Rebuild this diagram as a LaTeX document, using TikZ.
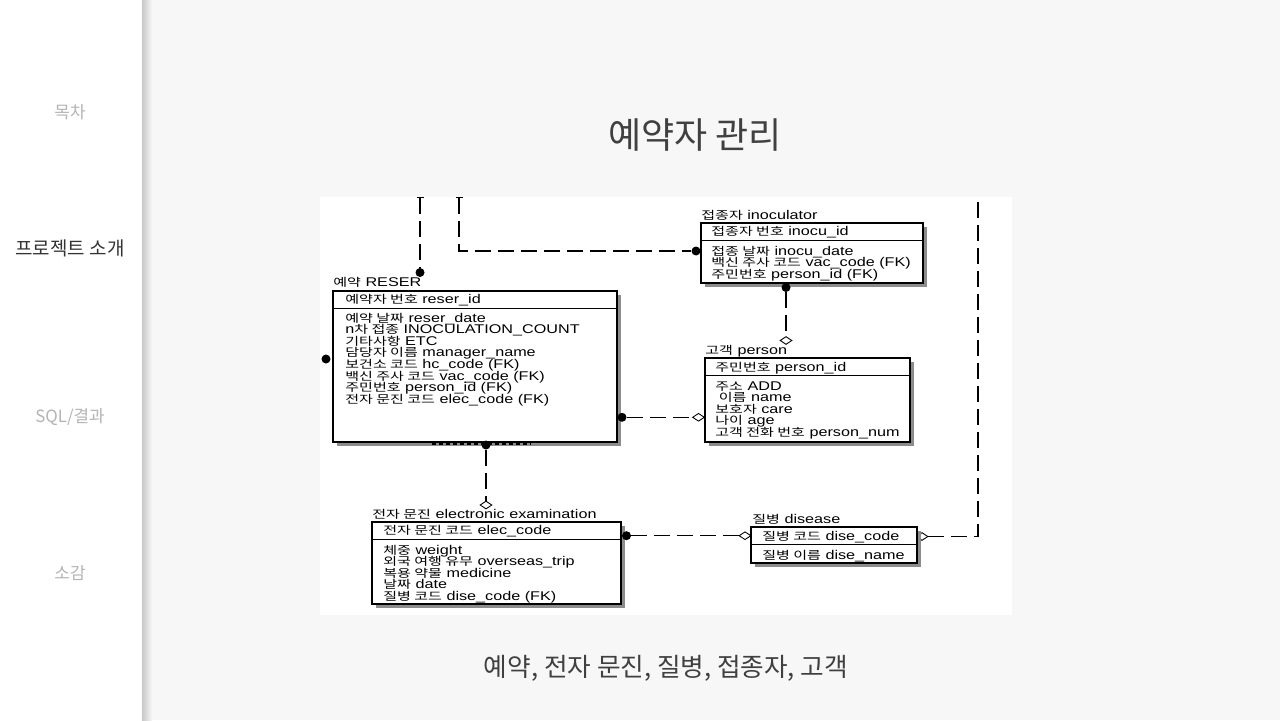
\documentclass[tikz,border=0pt]{standalone}
\usepackage{fontspec}
\setmainfont{Noto Sans CJK KR}
\newfontfamily\erfont[FakeStretch=1.28]{Liberation Sans}
\newfontfamily\kofont[FakeStretch=1.35,Scale=0.88]{Noto Sans CJK KR}
\usetikzlibrary{shapes.geometric,arrows.meta,calc,fit,shadows}
\definecolor{pagebg}{HTML}{F7F7F7}
\definecolor{menugray}{HTML}{B4B4B4}
\newcommand\ko[1]{{\kofont #1}}

\tikzset{
  ebox/.style={draw, line width=0.6pt, fill=white, inner sep=0pt,
    drop shadow={shadow xshift=0.08cm, shadow yshift=-0.08cm, fill=black!45, opacity=1}},
  attr/.style={anchor=base west, inner sep=0pt, font=\erfont\fontsize{7.2}{8}\selectfont},
  dot/.style={circle, fill, inner sep=0pt, minimum size=0.18cm},
  dia/.style={diamond, draw, fill=white, line width=0.5pt, inner sep=0pt,
    minimum width=0.24cm, minimum height=0.16cm},
  rel/.style={line width=0.7pt, dash pattern=on 0.32cm off 0.14cm},
  menu/.style={font=\fontsize{9.6}{11}\selectfont, text=menugray}
}

\begin{document}
\begin{tikzpicture}[x=0.02cm, y=-0.02cm]
\useasboundingbox (0,0) rectangle (1280,720);

% page
\fill[pagebg] (0,0) rectangle (1280,720);
\fill[white] (0,0) rectangle (142,720);
\shade[left color=black!22, right color=pagebg] (142,0) rectangle (152,720);
\fill[white] (320,197) rectangle (1012,615);

% side menu
\node[menu] (toc) at (70,112) {목차};
\node[menu, font=\fontsize{10.8}{12}\selectfont, text=black!80] (intro) at (70,248) {프로젝트 소개};
\node[menu] (sql) at (70,417) {SQL/결과};
\node[menu] (review) at (70,573) {소감};

\node[font=\fontsize{20.5}{24}\selectfont, text=black!75] (title) at (695,135) {예약자 관리};
\node[font=\fontsize{14.6}{16}\selectfont, text=black!75] (sub) at (666,668) {예약, 전자 문진, 질병, 접종자, 고객};

% reservation
\node[attr] (resert) at (333,286) {\ko{예약} RESER};
\node[ebox, fit={(333,291) (617,442)}] (reser) {};
\node[attr] (reserk) at (345,303) {\ko{예약자 번호} reser\_id};
\foreach \txt [count=\i] in {{\ko{예약 날짜} reser\_date}, {n\ko{차 접종} INOCULATION\_COUNT},
    {\ko{기타사항} ETC}, {\ko{담당자 이름} manager\_name}, {\ko{보건소 코드} hc\_code (FK)},
    {\ko{백신 주사 코드} vac\_code (FK)}, {\ko{주민번호} person\_id (FK)},
    {\ko{전자 문진 코드} elec\_code (FK)}}
  \node[attr] (reser\i) at (345,{322+11.6*(\i-1)}) {\txt};
\draw[line width=0.08cm, dash pattern=on 0.08cm off 0.06cm] (432,443) -- (530,443);

% inoculator
\node[attr] (inoct) at (701,219.5) {\ko{접종자} inoculator};
\node[ebox, fit={(701,223) (923,283)}] (inoc) {};
\node[attr] (inock) at (711,235.5) {\ko{접종자 번호} inocu\_id};
\foreach \txt [count=\i] in {{\ko{접종 날짜} inocu\_date}, {\ko{백신 주사 코드} vac\_code (FK)},
    {\ko{주민번호} person\_id (FK)}}
  \node[attr] (inoc\i) at (711,{255+11.8*(\i-1)}) {\txt};

% person
\node[attr] (persont) at (705,354) {\ko{고객} person};
\node[ebox, fit={(705,358) (910,442)}] (person) {};
\node[attr] (personk) at (715,371) {\ko{주민번호} person\_id};
\foreach \txt [count=\i] in {{\ko{주소} ADD}, {\hspace{2pt}\ko{이름} name}, {\ko{보호자} care},
    {\ko{나이} age}, {\ko{고객 전화 번호} person\_num}}
  \node[attr] (person\i) at (715,{390+11.6*(\i-1)}) {\txt};

% electronic examination
\node[attr] (examt) at (372,518) {\ko{전자 문진} electronic examination};
\node[ebox, fit={(372,522) (621,604)}] (exam) {};
\node[attr] (examk) at (383,534.5) {\ko{전자 문진 코드} elec\_code};
\foreach \txt [count=\i] in {{\ko{체중} weight}, {\ko{외국 여행 유무} overseas\_trip},
    {\ko{복용 약물} medicine}, {\ko{날짜} date}, {\ko{질병 코드} dise\_code (FK)}}
  \node[attr] (exam\i) at (383,{554+11.6*(\i-1)}) {\txt};

% disease
\node[dia] (m7) at (922,536.5) {};
\node[attr] (diset) at (752,523) {\ko{질병} disease};
\node[ebox, fit={(751,527) (917,563)}] (dise) {};
\node[attr] (disek) at (762,540) {\ko{질병 코드} dise\_code};
\node[attr] (dise1) at (762,559) {\ko{질병 이름} dise\_name};

\foreach \e in {reser,inoc,person,exam,dise}
  \draw[line width=0.6pt] ($(\e.north west)+(0,18)$) -- ($(\e.north east)+(0,18)$);

% relationships
\coordinate (top1) at (420,197);
\coordinate (top2) at (459,197);
\coordinate (top3) at (978,197);
\node[dot] (d0) at (326,359) {};
\node[dot] (d1) at (420,272.5) {};
\node[dot] (d2) at (696,251) {};
\node[dot] (d3) at (786,287.5) {};
\node[dia] (m3) at (786,340.5) {};
\node[dot] (d4) at (622,417.3) {};
\node[dia] (m4) at (698.5,417.3) {};
\node[dot] (d5) at (486,445) {};
\node[dia] (m5) at (486,505) {};
\node[dot] (d6) at (626.5,535.7) {};
\node[dia] (m6) at (745,535.7) {};

\draw[rel, {Bar[width=0.14cm, line width=0.6pt]}-] (top1) -- (d1);
\draw[rel, {Bar[width=0.14cm, line width=0.6pt]}-] (top2) |- (d2);
\draw[rel] (d3) -- (m3);
\draw[rel] (d4) -- (m4);
\draw[rel] (d5) -- (m5);
\draw[rel] (d6) -- (m6);
\draw[rel] (m7) -| (top3);
\end{tikzpicture}
\end{document}
